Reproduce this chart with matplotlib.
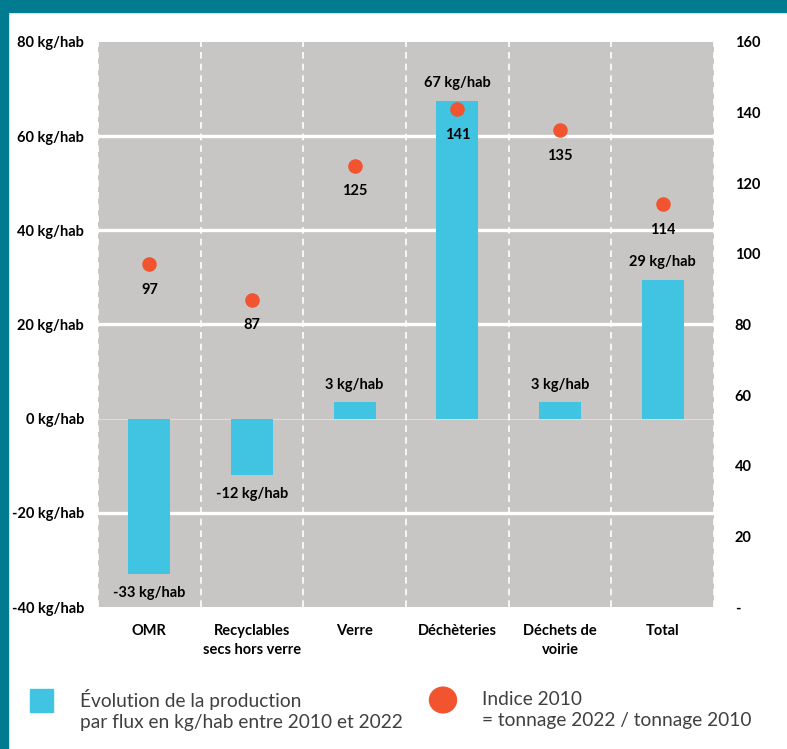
import numpy as np
import matplotlib.pyplot as plt
from matplotlib.patches import Rectangle

plt.rcParams['font.family'] = ['Lato', 'DejaVu Sans']

# data
categories = ["OMR", "Recyclables\nsecs hors verre", "Verre", "Déchèteries",
              "Déchets de\nvoirie", "Total"]
evolution = [-33, -12, 3.5, 67.5, 3.5, 29.5]
evolution_labels = ["-33 kg/hab", "-12 kg/hab", "3 kg/hab", "67 kg/hab",
                    "3 kg/hab", "29 kg/hab"]
indice = [97, 87, 125, 141, 135, 114]
left_ticks = [-40, -20, 0, 20, 40, 60, 80]
right_ticks = [0, 20, 40, 60, 80, 100, 120, 140, 160]

BAR = "#41C4E2"
DOT = "#F1542F"
BG = "#C8C6C4"
TEAL = "#007B8F"
FS = 10.5

fig = plt.figure(figsize=(7.87, 7.49), dpi=100)
fig.patch.set_facecolor("white")

# teal frame (top and left)
fig.add_artist(Rectangle((0, 1 - 12 / 749), 1, 12 / 749, transform=fig.transFigure,
                         color=TEAL, zorder=0))
fig.add_artist(Rectangle((0, 0), 8 / 787, 1, transform=fig.transFigure,
                         color=TEAL, zorder=0))

ax = fig.add_axes([98 / 787, 1 - 607 / 749, 616 / 787, 565 / 749])
ax.set_facecolor(BG)
x = np.arange(len(categories))
ax.set_xlim(-0.5, len(categories) - 0.5)
ax.set_ylim(-40, 80)

for y in [-20, 20, 40, 60]:
    ax.axhline(y, color="white", lw=2.4, zorder=1)
ax.axhline(0, color="#DCDCDC", lw=0.8, zorder=1)
for b in np.arange(-0.5, len(categories), 1.0):
    ax.axvline(b, color="white", lw=1.2, ls=(0, (4, 3)), zorder=1)

ax.bar(x, evolution, width=0.41, color=BAR, zorder=2)
for xi, v, lab in zip(x, evolution, evolution_labels):
    if v >= 0:
        ax.text(xi, v + 2.2, lab, ha="center", va="bottom", fontsize=FS,
                fontweight="bold", zorder=4)
    else:
        ax.text(xi, v - 2.6, lab, ha="center", va="top", fontsize=FS,
                fontweight="bold", zorder=4)

for s in ax.spines.values():
    s.set_visible(False)
ax.set_yticks(left_ticks)
ax.set_yticklabels([f"{t} kg/hab" for t in left_ticks], fontsize=FS, fontweight="bold")
ax.tick_params(axis="y", length=0, pad=10)
ax.set_xticks(x)
ax.set_xticklabels(categories, fontsize=FS, fontweight="bold", linespacing=1.5)
ax.tick_params(axis="x", length=0, pad=12)

ax2 = ax.twinx()
ax2.set_ylim(0, 160)
ax2.scatter(x, indice, s=110, color=DOT, zorder=5, linewidths=0)
for xi, v in zip(x, indice):
    ax2.text(xi, v - 5.3, str(v), ha="center", va="top", fontsize=FS,
             fontweight="bold", zorder=6)
ax2.set_yticks(right_ticks)
ax2.set_yticklabels(["-"] + [str(t) for t in right_ticks[1:]], fontsize=FS,
                    fontweight="bold")
ax2.tick_params(axis="y", length=0, pad=15)
for s in ax2.spines.values():
    s.set_visible(False)

# legend
fig.add_artist(Rectangle((30 / 787, 1 - 712 / 749), 23 / 787, 23 / 749,
                         transform=fig.transFigure, color=BAR))
fig.text(80 / 787, 1 - 710 / 749,
         "Évolution de la production\npar flux en kg/hab entre 2010 et 2022",
         fontsize=13.8, color="#404040", va="center", ha="left", linespacing=1.3)
fig.add_artist(plt.Circle((443 / 787, 1 - 700 / 749), 13.5 / 787,
                          transform=fig.transFigure, color=DOT))
fig.text(482 / 787, 1 - 710 / 749,
         "Indice 2010\n= tonnage 2022 / tonnage 2010",
         fontsize=13.8, color="#404040", va="center", ha="left", linespacing=1.3)

fig.savefig("out.png", dpi=100)
